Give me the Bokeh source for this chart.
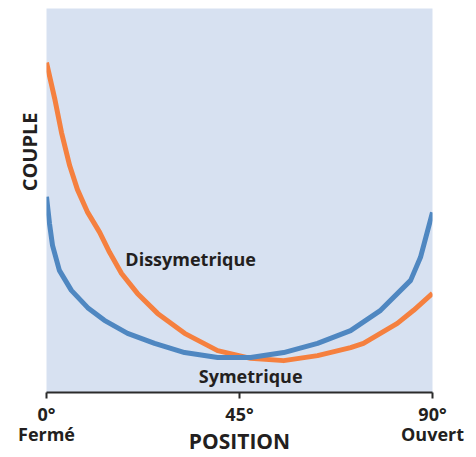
from bokeh.plotting import figure
from bokeh.models import Range1d, Label, FixedTicker, Title
from bokeh.embed import file_html
from bokeh.resources import INLINE

# Position (degrees) and torque (arbitrary units)
diss_x = [0, 1.9, 3.5, 5.4, 7.2, 9.6, 12.4, 14.7, 17.5, 21.2, 25.9, 32.2, 39.9, 47.6, 55.3, 63.2, 70.9, 73.9, 81.8, 85.6, 90]
diss_y = [85.9, 76.6, 67.7, 59.1, 52.9, 46.9, 41.7, 36.5, 31.0, 25.8, 20.6, 15.4, 10.9, 8.9, 8.3, 9.6, 11.7, 12.8, 18.0, 21.4, 25.8]

sym_x = [0, 0.7, 1.4, 3.0, 5.8, 9.6, 13.5, 18.9, 25.2, 32.2, 39.9, 47.6, 55.3, 63.2, 70.9, 77.9, 84.9, 87.2, 90]
sym_y = [51.0, 44.0, 38.3, 31.8, 26.6, 22.1, 18.8, 15.4, 12.8, 10.4, 9.1, 9.1, 10.4, 12.8, 16.1, 21.4, 29.2, 35.2, 46.9]

tick_values = [0, 45, 90]
tick_labels = ["0°\nFermé", "45°", "90°\nOuvert"]

FONT = "Open Sans"
TXT = "#231f20"

p = figure(frame_width=386, frame_height=384, output_backend="svg", toolbar_location=None,
           x_range=Range1d(0, 90), y_range=Range1d(0, 100),
           min_border_left=46, min_border_right=44, min_border_top=8, min_border_bottom=0)
p.background_fill_color = "#d7e1f1"
p.border_fill_color = "white"
p.outline_line_color = None
p.grid.visible = False
p.yaxis.visible = False

ax = p.xaxis[0]
ax.ticker = FixedTicker(ticks=tick_values)
ax.major_label_overrides = {v: l for v, l in zip(tick_values, tick_labels)}
ax.minor_tick_line_color = None
ax.major_tick_in = 0
ax.major_tick_out = 6
ax.major_tick_line_width = 2
ax.major_tick_line_color = "#2b2b2b"
ax.axis_line_width = 2
ax.axis_line_color = "#2b2b2b"
ax.major_label_standoff = 3
ax.major_label_text_font = FONT
ax.major_label_text_font_style = "bold"
ax.major_label_text_font_size = "18px"
ax.major_label_text_line_height = 0.87
ax.major_label_text_color = TXT
ax.axis_label = "POSITION"
ax.axis_label_standoff = -22
ax.axis_label_text_font = FONT
ax.axis_label_text_font_style = "bold"
ax.axis_label_text_font_size = "21px"
ax.axis_label_text_color = TXT

p.line(diss_x, diss_y, line_color="#f5803f", line_width=5, line_join="round")
p.line(sym_x, sym_y, line_color="#4f87c1", line_width=5, line_join="round")

p.add_layout(Label(x=33.6, y=34.7, text="Dissymetrique", text_align="center",
                   text_baseline="alphabetic", text_font=FONT, text_font_style="bold",
                   text_font_size="18px", text_color=TXT))
p.add_layout(Label(x=47.6, y=4.4, text="Symetrique", text_align="center",
                   text_baseline="alphabetic", text_font=FONT, text_font_style="bold",
                   text_font_size="18px", text_color=TXT))

p.add_layout(Title(text="COUPLE", align="right", offset=104, vertical_align="middle",
                   standoff=6, text_font=FONT, text_font_style="bold",
                   text_font_size="20px", text_color=TXT), "left")

open("out.html", "w").write(file_html(p, INLINE))
